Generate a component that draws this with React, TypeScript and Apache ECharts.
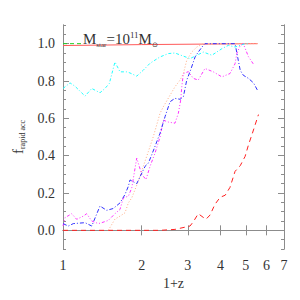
import React, { useEffect, useRef } from "react";
import * as echarts from "echarts";

// x values are 1+z, y values are f_rapid acc
const xTickValues = [1, 2, 3, 4, 5, 6, 7];
const yLabelValues = [0, 0.2, 0.4, 0.6, 0.8, 1.0];
const yMinorValues = [-0.1, -0.05, 0, 0.05, 0.1, 0.15, 0.2, 0.25, 0.3, 0.35, 0.4, 0.45, 0.5, 0.55, 0.6, 0.65, 0.7, 0.75, 0.8, 0.85, 0.9, 0.95, 1.0, 1.05, 1.1];

const redDashed: [number, number][] = [
  [1, 0], [2.35, 0], [2.68, 0.005], [3.06, 0.023], [3.15, 0.046], [3.29, 0.089], [3.52, 0.059],
  [3.65, 0.082], [3.81, 0.139], [3.99, 0.177], [4.17, 0.188], [4.35, 0.23], [4.55, 0.316],
  [4.76, 0.346], [4.97, 0.396], [5.12, 0.458], [5.3, 0.52], [5.59, 0.62],
];
const orangeDotted: [number, number][] = [
  [1.49, 0], [1.58, 0.06], [1.652, 0.076], [1.726, 0.094], [1.778, 0.147], [1.832, 0.174],
  [1.941, 0.263], [2.028, 0.343], [2.12, 0.422], [2.215, 0.502], [2.35, 0.627], [2.419, 0.662],
  [2.567, 0.724], [2.68, 0.769], [2.804, 0.805], [2.886, 0.84], [2.973, 0.911], [3.107, 0.955],
  [3.248, 0.982], [3.394, 0.996], [3.49, 1.0], [5.52, 1.0],
];
const magenta: [number, number][] = [
  [1, 0.023], [1.018, 0.068], [1.08, 0.089], [1.128, 0.059], [1.196, 0.076], [1.232, 0.089],
  [1.288, 0.05], [1.365, 0.036], [1.406, 0.041], [1.49, 0.053], [1.58, 0.089], [1.652, 0.112],
  [1.701, 0.174], [1.778, 0.183], [1.832, 0.227], [1.914, 0.387], [2.0, 0.3], [2.077, 0.272],
  [2.152, 0.343], [2.249, 0.414], [2.35, 0.5], [2.419, 0.59], [2.53, 0.58], [2.68, 0.574],
  [2.761, 0.627], [2.82, 0.7], [2.846, 0.77], [2.886, 0.84], [3.016, 0.85], [3.15, 0.814],
  [3.29, 0.805], [3.49, 0.867], [3.758, 0.849], [4.05, 0.822], [4.35, 0.84], [4.55, 0.893],
  [4.62, 0.947], [4.76, 0.99], [4.89, 1.0], [5.12, 0.93], [5.35, 0.89],
];
const blue: [number, number][] = [
  [1, 0.036], [1.048, 0.023], [1.095, 0.036], [1.214, 0.041], [1.288, 0.023], [1.385, 0.13],
  [1.47, 0.107], [1.557, 0.117], [1.652, 0.147], [1.726, 0.192], [1.778, 0.236], [1.804, 0.27],
  [1.914, 0.25], [2.06, 0.343], [2.12, 0.36], [2.185, 0.405], [2.35, 0.52], [2.456, 0.609],
  [2.567, 0.689], [2.68, 0.707], [2.804, 0.702], [2.886, 0.716], [2.973, 0.805], [3.06, 0.85],
  [3.2, 0.929], [3.29, 0.955], [3.44, 0.991], [3.49, 1.0], [4.55, 1.0], [4.68, 0.911],
  [4.76, 0.858], [4.89, 0.831], [5.12, 0.814], [5.35, 0.79], [5.54, 0.751],
];
const cyan: [number, number][] = [
  [1, 0.76], [1.064, 0.79], [1.111, 0.772], [1.214, 0.719], [1.288, 0.76], [1.385, 0.737],
  [1.447, 0.76], [1.504, 0.787], [1.536, 0.836], [1.58, 0.902], [1.652, 0.849], [1.752, 0.849],
  [1.804, 0.843], [1.914, 0.826], [2.028, 0.858], [2.152, 0.895], [2.35, 0.929], [2.53, 0.947],
  [2.68, 0.95], [3.06, 0.92], [3.44, 0.955], [3.71, 0.938], [4.05, 0.973], [4.29, 0.991],
  [4.55, 0.982], [4.97, 1.0], [5.12, 1.0],
];
const redSolid: [number, number][] = [[1, 0.99], [2, 0.995], [5.55, 1.0]];
const greenDashed: [number, number][] = [[1, 1.0], [1.19, 1.0]];

const toLog = (d: [number, number][]) => d.map(([x, y]) => [Math.log10(x), y]);

const FONT = "Liberation Serif";
const AXIS_COLOR = "#8c8c8c";

export default function App() {
  const ref = useRef<HTMLDivElement>(null);
  useEffect(() => {
    if (!ref.current) return;
    const chart = echarts.init(ref.current, undefined, { renderer: "svg" });
    const xMin = 0;
    const xMax = Math.log10(7);
    const xCustom = xTickValues.map((v) => Math.log10(v));
    const baseX = {
      type: "value" as const,
      min: xMin,
      max: xMax,
      splitLine: { show: false },
      axisLine: { show: true, lineStyle: { color: AXIS_COLOR, width: 1 } },
    };
    const baseY = {
      type: "value" as const,
      min: -0.1,
      max: 1.1,
      splitLine: { show: false },
      axisLine: { show: true, lineStyle: { color: AXIS_COLOR, width: 1 } },
    };
    const mkSeries = (data: [number, number][], color: string, type: any, z: number) => ({
      type: "line",
      data: toLog(data),
      showSymbol: false,
      symbol: "none",
      lineStyle: { color, width: 1, type },
      z,
      xAxisIndex: 0,
      yAxisIndex: 0,
    });
    chart.setOption({
      animation: false,
      backgroundColor: "#ffffff",
      grid: { left: 63, right: 16, top: 25, bottom: 51, containLabel: false },
      xAxis: [
        {
          ...baseX,
          position: "bottom",
          name: "1+z",
          nameLocation: "middle",
          nameGap: 25,
          nameTextStyle: { fontFamily: FONT, fontSize: 14, color: "#333" },
          axisTick: { show: true, inside: true, length: 5, customValues: xCustom, lineStyle: { color: AXIS_COLOR } },
          axisLabel: {
            show: true,
            customValues: xCustom,
            margin: 9,
            fontFamily: FONT,
            fontSize: 14,
            color: "#333",
            formatter: (v: number) => String(Math.round(Math.pow(10, v))),
          },
        },
        {
          ...baseX,
          position: "top",
          axisTick: { show: true, inside: true, length: 5, customValues: xCustom, lineStyle: { color: AXIS_COLOR } },
          axisLabel: { show: false },
        },
      ],
      yAxis: [
        {
          ...baseY,
          position: "left",
          name: "{f|f}{s|rapid acc}",
          nameLocation: "middle",
          nameRotate: 90,
          nameGap: 36,
          nameTextStyle: {
            rich: {
              f: { fontFamily: FONT, fontSize: 15, color: "#333", lineHeight: 18, verticalAlign: "middle" },
              s: { fontFamily: FONT, fontSize: 8, color: "#333", lineHeight: 8, verticalAlign: "bottom" },
            },
          },
          axisTick: { show: true, inside: true, length: 6, customValues: yLabelValues, lineStyle: { color: AXIS_COLOR } },
          axisLabel: {
            show: true,
            customValues: yLabelValues,
            margin: 8,
            fontFamily: FONT,
            fontSize: 14,
            color: "#333",
            formatter: (v: number) => v.toFixed(1),
          },
        },
        {
          ...baseY,
          position: "left",
          axisTick: { show: true, inside: true, length: 3, customValues: yMinorValues, lineStyle: { color: AXIS_COLOR } },
          axisLabel: { show: false },
        },
        {
          ...baseY,
          position: "right",
          axisTick: { show: true, inside: true, length: 6, customValues: yLabelValues, lineStyle: { color: AXIS_COLOR } },
          axisLabel: { show: false },
        },
        {
          ...baseY,
          position: "right",
          axisTick: { show: true, inside: true, length: 3, customValues: yMinorValues, lineStyle: { color: AXIS_COLOR } },
          axisLabel: { show: false },
        },
      ],
      graphic: [
        {
          type: "text",
          x: 83,
          y: 30,
          z: 100,
          style: {
            text: "{m|M}{sub|star}{m|=10}{sup|11}{m|M}{sub|⊙}",
            rich: {
              m: { fontFamily: FONT, fontSize: 15, fill: "#333", lineHeight: 18, verticalAlign: "middle" },
              sub: { fontFamily: FONT, fontSize: 7, fill: "#333", lineHeight: 7, verticalAlign: "bottom" },
              sup: { fontFamily: FONT, fontSize: 9, fill: "#333", lineHeight: 9, verticalAlign: "top" },
            },
          },
        },
      ],
      series: [
        mkSeries(redSolid, "#ff5a5a", "solid", 2),
        mkSeries(greenDashed, "#22cc22", [4, 3], 3),
        mkSeries(redDashed, "#ff2020", [5, 4], 4),
        mkSeries(orangeDotted, "#ffae86", [1, 2], 5),
        mkSeries(magenta, "#ff33ff", [3, 2, 1, 2, 1, 2], 6),
        mkSeries(blue, "#3030ff", [4, 2, 1, 2], 7),
        mkSeries(cyan, "#22ffff", [3, 2, 1, 2], 8),
      ],
    });
    return () => chart.dispose();
  }, []);
  return (
    <div
      ref={ref}
      style={{ position: "fixed", left: 0, top: 0, width: 300, height: 300, background: "#fff" }}
    />
  );
}
